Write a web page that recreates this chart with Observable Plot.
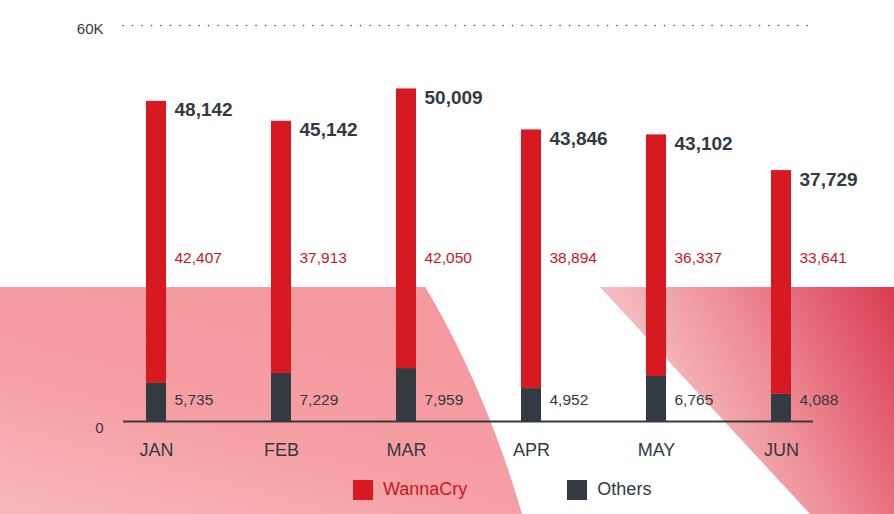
<!DOCTYPE html>
<html>
<head>
<meta charset="utf-8">
<script src="https://cdn.jsdelivr.net/npm/d3@7"></script>
<script src="https://cdn.jsdelivr.net/npm/@observablehq/plot@0.6"></script>
<style>
  html, body { margin: 0; padding: 0; background: #fff; }
  #wrap { position: relative; width: 894px; height: 514px; overflow: hidden; font-family: "Liberation Sans", Arial, sans-serif; }
  #bg { position: absolute; left: 0; top: 0; }
  #chart { position: absolute; left: 0; top: 0; }
  #legend { position: absolute; top: 479px; left: 353px; display: flex; align-items: center; font-size: 18px; }
  .item { display: flex; align-items: center; }
  .sw { width: 20px; height: 20px; margin-right: 10px; }
</style>
</head>
<body>
<div id="wrap">
  <svg id="bg" width="894" height="514">
    <defs>
      <linearGradient id="gl" x1="0" y1="1" x2="0.6" y2="0">
        <stop offset="0" stop-color="#f8b8bb"/>
        <stop offset="0.5" stop-color="#f59ea3"/>
        <stop offset="1" stop-color="#f49a9f"/>
      </linearGradient>
      <linearGradient id="gr" gradientUnits="userSpaceOnUse" x1="620" y1="400" x2="900" y2="260">
        <stop offset="0" stop-color="#f8cdd0"/>
        <stop offset="0.45" stop-color="#ee8f97"/>
        <stop offset="1" stop-color="#d9304a"/>
      </linearGradient>
    </defs>
    <path d="M0,287 L425,287 C455,335 495,420 522,514 L0,514 Z" fill="url(#gl)"/>
    <path d="M600,287 L894,287 L894,514 L810,514 Z" fill="url(#gr)"/>
  </svg>
  <div id="chart"></div>
  <div id="legend"></div>
</div>
<script>
const months = ["JAN", "FEB", "MAR", "APR", "MAY", "JUN"];
const wannacry = [42407, 37913, 42050, 38894, 36337, 33641];
const others = [5735, 7229, 7959, 4952, 6765, 4088];
const totals = [48142, 45142, 50009, 43846, 43102, 37729];
const seriesNames = ["WannaCry", "Others"];
const seriesColors = ["#d71a21", "#333a41"];
const yTicks = [0, 60000];
const yTickLabels = ["0", "60K"];

const DARK = "#333a41", REDTXT = "#c8181f";

const rows = [];
months.forEach((m, i) => {
  rows.push({month: m, series: "Others", value: others[i]});
  rows.push({month: m, series: "WannaCry", value: wannacry[i]});
});
const perMonth = months.map((m, i) => ({month: m, w: wannacry[i], o: others[i], t: totals[i]}));
const fmt = d3.format(",");

const chart = Plot.plot({
  width: 894,
  height: 470,
  marginTop: 22,
  marginBottom: 49,
  marginLeft: 123,
  marginRight: 81,
  style: {background: "transparent", fontFamily: "'Liberation Sans', Arial, sans-serif", color: DARK},
  x: {domain: months, paddingInner: 0.84, paddingOuter: 0.176, label: null},
  y: {domain: [0, 60000], label: null},
  color: {domain: seriesNames, range: seriesColors},
  marks: [
    Plot.ruleY([60000], {stroke: "#555", strokeWidth: 1.6, strokeDasharray: "0.1,9.4", strokeLinecap: "round", dy: 3}),
    Plot.barY(rows, Plot.stackY({x: "month", y: "value", fill: "series", order: ["Others", "WannaCry"]})),
    Plot.ruleY([0], {stroke: DARK, strokeWidth: 2}),
    Plot.axisX({tickSize: 0, tickPadding: 22, fontSize: 18, fill: DARK}),
    Plot.axisY({ticks: yTicks, tickFormat: d => yTickLabels[yTicks.indexOf(d)], tickSize: 0, tickPadding: 20, fontSize: 15, dy: 7, fill: DARK}),
    Plot.text(perMonth, {x: "month", y: "t", text: d => fmt(d.t), textAnchor: "start", dx: 18, dy: 9, fontSize: 19, fontWeight: "bold", fill: DARK}),
    Plot.text(perMonth, {x: "month", text: d => fmt(d.w), frameAnchor: "middle", textAnchor: "start", dx: 18, dy: 36, fontSize: 15.5, fill: REDTXT}),
    Plot.text(perMonth, {x: "month", text: d => fmt(d.o), frameAnchor: "bottom", textAnchor: "start", dx: 18, dy: -17, fontSize: 15.5, fill: DARK})
  ]
});
document.getElementById("chart").appendChild(chart);

const legend = document.getElementById("legend");
const legendText = [REDTXT, DARK];
seriesNames.forEach((name, i) => {
  const it = document.createElement("div");
  it.className = "item";
  if (i > 0) it.style.marginLeft = "100px";
  it.innerHTML = `<div class="sw" style="background:${seriesColors[i]}"></div><span style="color:${legendText[i]}">${name}</span>`;
  legend.appendChild(it);
});
</script>
</body>
</html>
